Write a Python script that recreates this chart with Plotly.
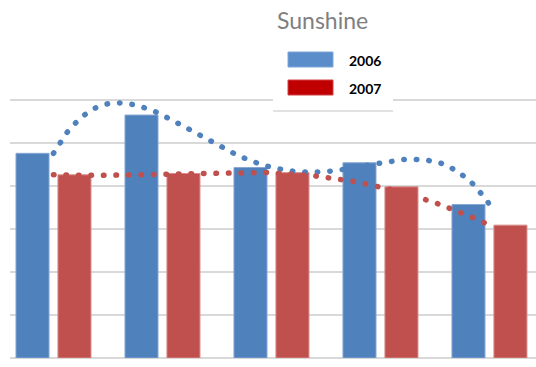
import numpy as np
import plotly.graph_objects as go

categories = ["1", "2", "3", "4", "5"]
series_2006 = [4.76, 5.65, 4.43, 4.54, 3.57]
series_2007 = [4.26, 4.29, 4.31, 3.98, 3.09]
series_names = ["2006", "2007"]
title_text = "Sunshine"

BLUE = "#4F81BD"
RED = "#C0504D"
GRID = "#D9D9D9"

xpos = list(range(len(categories)))

fig = go.Figure()

fig.add_trace(go.Bar(x=xpos, y=series_2006, name=series_names[0],
                     marker=dict(color=BLUE, line=dict(color="#86A7D2", width=1)),
                     offset=-0.344, width=0.303, showlegend=False))
fig.add_trace(go.Bar(x=xpos, y=series_2007, name=series_names[1],
                     marker=dict(color=RED, line=dict(color="#D68C8A", width=1)),
                     offset=0.041, width=0.303, showlegend=False))

# Polynomial (order 4) trendlines computed from each series, as in the original chart
xt = np.linspace(0, len(categories) - 1, 200)
for vals, col, nm in [(series_2006, BLUE, series_names[0]), (series_2007, RED, series_names[1])]:
    coef = np.polyfit(xpos, vals, 4)
    fig.add_trace(go.Scatter(x=xt, y=np.polyval(coef, xt), mode="lines", showlegend=False,
                             name=nm + " trend",
                             line=dict(color=col, width=5.5, dash="0.5px,12px"),
                             hoverinfo="skip"))

W, H = 536, 367
ml, mr, mt, mb = 10, 0, 80, 9
pw, ph = W - ml - mr, H - mt - mb

def px(x):
    return (x - ml) / pw

def py(y):
    return (H - mb - y) / ph

shapes = [
    dict(type="rect", xref="paper", yref="paper", x0=px(273), x1=px(393),
         y0=py(111), y1=py(38), fillcolor="white", line=dict(width=0), layer="above"),
    dict(type="line", xref="paper", yref="paper", x0=px(273), x1=px(393),
         y0=py(111), y1=py(111), line=dict(color=GRID, width=1.5), layer="above"),
    dict(type="rect", xref="paper", yref="paper", x0=px(288), x1=px(333),
         y0=py(67), y1=py(52), fillcolor="#5B8DCB", line=dict(color="#7FA6D8", width=1),
         layer="above"),
    dict(type="rect", xref="paper", yref="paper", x0=px(288), x1=px(333),
         y0=py(95), y1=py(80), fillcolor="#C00000", line=dict(color="#D04040", width=1),
         layer="above"),
]

annotations = [
    dict(text=series_names[0], xref="paper", yref="paper", x=px(347), y=py(60),
         xanchor="left", yanchor="middle", showarrow=False,
         font=dict(family="Lato", size=14, color="#000000", weight="bold")),
    dict(text=series_names[1], xref="paper", yref="paper", x=px(347), y=py(88),
         xanchor="left", yanchor="middle", showarrow=False,
         font=dict(family="Lato", size=14, color="#000000", weight="bold")),
]

fig.update_layout(
    width=W, height=H,
    margin=dict(l=ml, r=mr, t=mt, b=mb, pad=0),
    paper_bgcolor="white", plot_bgcolor="white",
    barmode="overlay",
    title=dict(text=title_text, x=277 / W, xanchor="left", y=1 - 21 / H,
               yanchor="middle", font=dict(family="Lato", size=23, color="#7F7F7F")),
    xaxis=dict(range=[-0.399, 4.427], tickvals=xpos, ticktext=categories,
               showticklabels=False, showgrid=False, zeroline=False, showline=False,
               ticks=""),
    yaxis=dict(range=[0, 6.465], dtick=1, showticklabels=False, gridcolor=GRID,
               gridwidth=1.5, zeroline=True, zerolinecolor=GRID, zerolinewidth=1.5,
               showline=False, ticks=""),
    shapes=shapes,
    annotations=annotations,
    showlegend=False,
)

post = """
var s = document.createElement('style');
s.innerHTML = 'html, body { margin: 0; padding: 0; } .scatterlayer .js-line { stroke-linecap: round; }';
document.head.appendChild(s);
"""

fig.write_html("out.html", post_script=post, config={"displayModeBar": False})
